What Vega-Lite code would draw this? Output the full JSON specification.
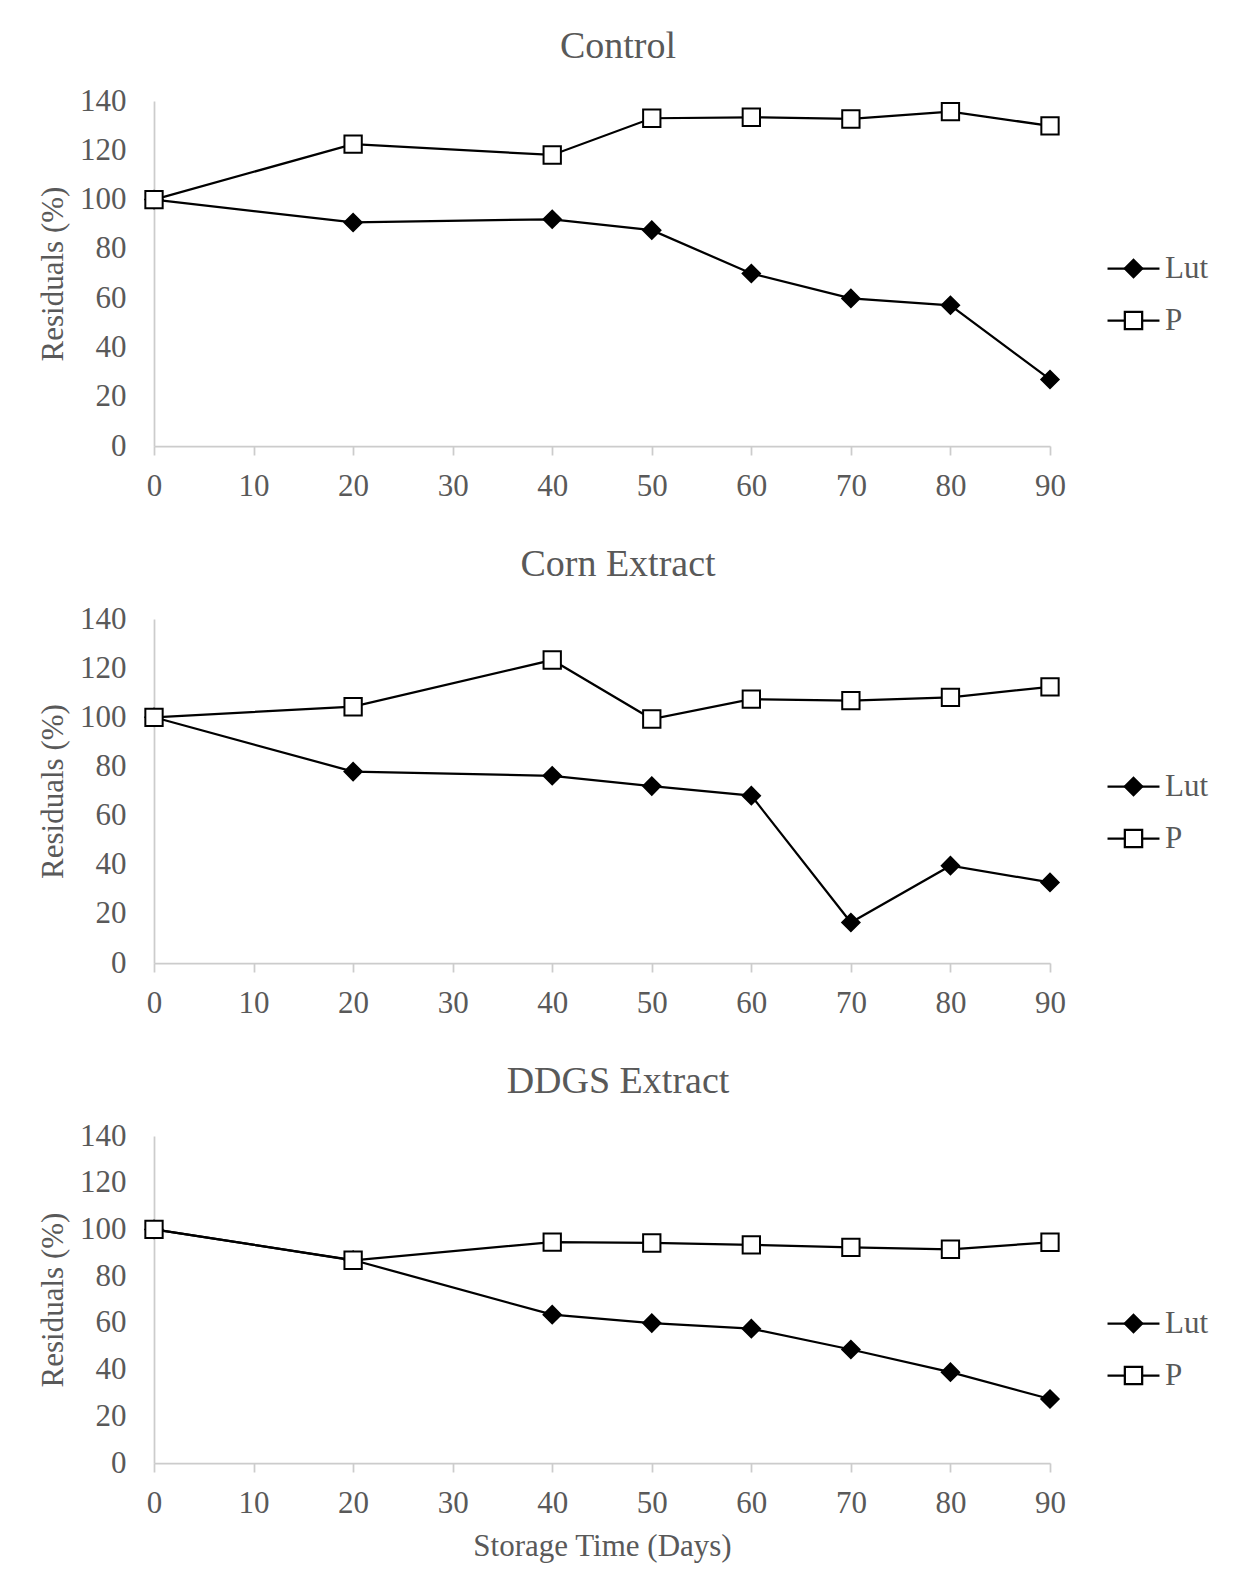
{
  "$schema": "https://vega.github.io/schema/vega-lite/v6.json",
  "background": "white",
  "autosize": {"type": "pad"},
  "padding": {"left": 37, "top": 28, "right": 5, "bottom": 5},
  "data": {"values": [
    {"panel": "Control", "series": "Lut", "day": 0, "value": 100},
    {"panel": "Control", "series": "Lut", "day": 20, "value": 90.7},
    {"panel": "Control", "series": "Lut", "day": 40, "value": 92.0},
    {"panel": "Control", "series": "Lut", "day": 50, "value": 87.6},
    {"panel": "Control", "series": "Lut", "day": 60, "value": 70.0},
    {"panel": "Control", "series": "Lut", "day": 70, "value": 59.9},
    {"panel": "Control", "series": "Lut", "day": 80, "value": 57.1},
    {"panel": "Control", "series": "Lut", "day": 90, "value": 27.0},
    {"panel": "Control", "series": "P", "day": 0, "value": 100},
    {"panel": "Control", "series": "P", "day": 20, "value": 122.5},
    {"panel": "Control", "series": "P", "day": 40, "value": 118.1},
    {"panel": "Control", "series": "P", "day": 50, "value": 133.0},
    {"panel": "Control", "series": "P", "day": 60, "value": 133.4},
    {"panel": "Control", "series": "P", "day": 70, "value": 132.7},
    {"panel": "Control", "series": "P", "day": 80, "value": 135.7},
    {"panel": "Control", "series": "P", "day": 90, "value": 129.9},
    {"panel": "Corn", "series": "Lut", "day": 0, "value": 100},
    {"panel": "Corn", "series": "Lut", "day": 20, "value": 77.9},
    {"panel": "Corn", "series": "Lut", "day": 40, "value": 76.2},
    {"panel": "Corn", "series": "Lut", "day": 50, "value": 72.0},
    {"panel": "Corn", "series": "Lut", "day": 60, "value": 68.1},
    {"panel": "Corn", "series": "Lut", "day": 70, "value": 16.5},
    {"panel": "Corn", "series": "Lut", "day": 80, "value": 39.6},
    {"panel": "Corn", "series": "Lut", "day": 90, "value": 32.8},
    {"panel": "Corn", "series": "P", "day": 0, "value": 100},
    {"panel": "Corn", "series": "P", "day": 20, "value": 104.3},
    {"panel": "Corn", "series": "P", "day": 40, "value": 123.3},
    {"panel": "Corn", "series": "P", "day": 50, "value": 99.3},
    {"panel": "Corn", "series": "P", "day": 60, "value": 107.4},
    {"panel": "Corn", "series": "P", "day": 70, "value": 106.8},
    {"panel": "Corn", "series": "P", "day": 80, "value": 108.1},
    {"panel": "Corn", "series": "P", "day": 90, "value": 112.4},
    {"panel": "DDGS", "series": "Lut", "day": 0, "value": 100},
    {"panel": "DDGS", "series": "Lut", "day": 20, "value": 86.9},
    {"panel": "DDGS", "series": "Lut", "day": 40, "value": 63.5},
    {"panel": "DDGS", "series": "Lut", "day": 50, "value": 59.9},
    {"panel": "DDGS", "series": "Lut", "day": 60, "value": 57.5},
    {"panel": "DDGS", "series": "Lut", "day": 70, "value": 48.6},
    {"panel": "DDGS", "series": "Lut", "day": 80, "value": 38.9},
    {"panel": "DDGS", "series": "Lut", "day": 90, "value": 27.4},
    {"panel": "DDGS", "series": "P", "day": 0, "value": 100},
    {"panel": "DDGS", "series": "P", "day": 20, "value": 86.8},
    {"panel": "DDGS", "series": "P", "day": 40, "value": 94.6},
    {"panel": "DDGS", "series": "P", "day": 50, "value": 94.2},
    {"panel": "DDGS", "series": "P", "day": 60, "value": 93.4},
    {"panel": "DDGS", "series": "P", "day": 70, "value": 92.3},
    {"panel": "DDGS", "series": "P", "day": 80, "value": 91.5},
    {"panel": "DDGS", "series": "P", "day": 90, "value": 94.5}
  ]},
  "bounds": "flush",
  "spacing": 173,
  "resolve": {
    "scale": {"shape": "independent", "fill": "independent", "stroke": "independent"},
    "legend": {"shape": "independent", "fill": "independent", "stroke": "independent"}
  },
  "vconcat": [
    {
      "width": 896, "height": 345,
      "title": {"text": "Control"},
      "transform": [{"filter": "datum.panel === 'Control'"}],
      "layer": [
        {
          "mark": {"type": "line", "strokeWidth": 2.25},
          "encoding": {
            "x": {"field": "day", "type": "quantitative", "scale": {"domain": [0, 90], "nice": false}, "axis": {"title": null, "values": [0, 10, 20, 30, 40, 50, 60, 70, 80, 90]}},
            "y": {"field": "value", "type": "quantitative", "scale": {"domain": [0, 140], "nice": false}, "axis": {"title": "Residuals (%)", "values": [0, 20, 40, 60, 80, 100, 120, 140]}},
            "stroke": {"field": "series", "type": "nominal", "scale": {"domain": ["Lut", "P"], "range": ["black", "black"]},
              "legend": {"title": null, "orient": "none", "legendX": 964, "legendY": 152, "symbolType": "M-3,0H3"}}
          }
        },
        {
          "mark": {"type": "point", "filled": true, "size": 300, "stroke": "black", "strokeWidth": 2, "opacity": 1},
          "encoding": {
            "x": {"field": "day", "type": "quantitative"},
            "y": {"field": "value", "type": "quantitative"},
            "shape": {"field": "series", "type": "nominal", "scale": {"range": ["diamond", "square"]},
              "legend": {"title": null, "orient": "none", "legendX": 964, "legendY": 152, "labelOpacity": 0}},
            "fill": {"field": "series", "type": "nominal", "scale": {"range": ["black", "white"]},
              "legend": {"title": null, "orient": "none", "legendX": 964, "legendY": 152, "labelOpacity": 0}}
          }
        }
      ]
    },
    {
      "width": 896, "height": 344,
      "title": {"text": "Corn Extract"},
      "transform": [{"filter": "datum.panel === 'Corn'"}],
      "layer": [
        {
          "mark": {"type": "line", "strokeWidth": 2.25},
          "encoding": {
            "x": {"field": "day", "type": "quantitative", "scale": {"domain": [0, 90], "nice": false}, "axis": {"title": null, "values": [0, 10, 20, 30, 40, 50, 60, 70, 80, 90]}},
            "y": {"field": "value", "type": "quantitative", "scale": {"domain": [0, 140], "nice": false}, "axis": {"title": "Residuals (%)", "values": [0, 20, 40, 60, 80, 100, 120, 140]}},
            "stroke": {"field": "series", "type": "nominal", "scale": {"domain": ["Lut", "P"], "range": ["black", "black"]},
              "legend": {"title": null, "orient": "none", "legendX": 964, "legendY": 152, "symbolType": "M-3,0H3"}}
          }
        },
        {
          "mark": {"type": "point", "filled": true, "size": 300, "stroke": "black", "strokeWidth": 2, "opacity": 1},
          "encoding": {
            "x": {"field": "day", "type": "quantitative"},
            "y": {"field": "value", "type": "quantitative"},
            "shape": {"field": "series", "type": "nominal", "scale": {"range": ["diamond", "square"]},
              "legend": {"title": null, "orient": "none", "legendX": 964, "legendY": 152, "labelOpacity": 0}},
            "fill": {"field": "series", "type": "nominal", "scale": {"range": ["black", "white"]},
              "legend": {"title": null, "orient": "none", "legendX": 964, "legendY": 152, "labelOpacity": 0}}
          }
        }
      ]
    },
    {
      "width": 896, "height": 327,
      "title": {"text": "DDGS Extract"},
      "transform": [{"filter": "datum.panel === 'DDGS'"}],
      "layer": [
        {
          "mark": {"type": "line", "strokeWidth": 2.25},
          "encoding": {
            "x": {"field": "day", "type": "quantitative", "scale": {"domain": [0, 90], "nice": false}, "axis": {"title": "Storage Time (Days)", "values": [0, 10, 20, 30, 40, 50, 60, 70, 80, 90]}},
            "y": {"field": "value", "type": "quantitative", "scale": {"domain": [0, 140], "nice": false}, "axis": {"title": "Residuals (%)", "values": [0, 20, 40, 60, 80, 100, 120, 140]}},
            "stroke": {"field": "series", "type": "nominal", "scale": {"domain": ["Lut", "P"], "range": ["black", "black"]},
              "legend": {"title": null, "orient": "none", "legendX": 964, "legendY": 172, "symbolType": "M-3,0H3"}}
          }
        },
        {
          "mark": {"type": "point", "filled": true, "size": 300, "stroke": "black", "strokeWidth": 2, "opacity": 1},
          "encoding": {
            "x": {"field": "day", "type": "quantitative"},
            "y": {"field": "value", "type": "quantitative"},
            "shape": {"field": "series", "type": "nominal", "scale": {"range": ["diamond", "square"]},
              "legend": {"title": null, "orient": "none", "legendX": 964, "legendY": 172, "labelOpacity": 0}},
            "fill": {"field": "series", "type": "nominal", "scale": {"range": ["black", "white"]},
              "legend": {"title": null, "orient": "none", "legendX": 964, "legendY": 172, "labelOpacity": 0}}
          }
        }
      ]
    }
  ],
  "config": {
    "view": {"stroke": null},
    "font": "Liberation Serif",
    "title": {"font": "Liberation Serif", "fontSize": 38, "fontWeight": "normal", "color": "#595959", "anchor": "middle", "frame": "group", "baseline": "alphabetic", "offset": 19, "dx": 16},
    "axis": {"grid": false, "domainColor": "#CCCCCC", "domainWidth": 1.75, "tickColor": "#CCCCCC", "tickWidth": 1.75,
      "labelFont": "Liberation Serif", "labelFontSize": 31, "labelColor": "#595959",
      "titleFont": "Liberation Serif", "titleFontSize": 31, "titleFontWeight": "normal", "titleColor": "#595959"},
    "axisX": {"tickSize": 9, "labelPadding": 16, "labelFlush": false, "labelOverlap": false, "titlePadding": 13},
    "axisY": {"ticks": false, "tickSize": 0, "labelPadding": 28, "labelOverlap": false, "titlePadding": 10},
    "legend": {"padding": 0, "rowPadding": 20, "symbolSize": 300, "symbolStrokeWidth": 2.25,
      "labelFont": "Liberation Serif", "labelFontSize": 31, "labelColor": "#595959", "labelOffset": 16}
  }
}
